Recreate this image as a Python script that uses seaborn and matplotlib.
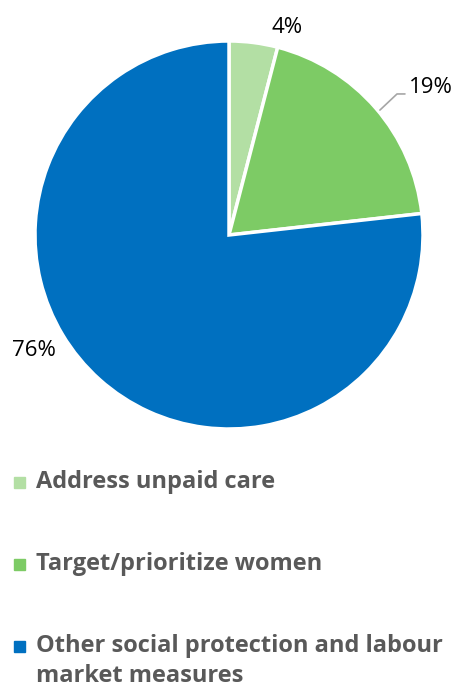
import matplotlib
matplotlib.use("Agg")
import matplotlib.pyplot as plt
from matplotlib.patches import Rectangle
import seaborn as sns

categories = ["Address unpaid care", "Target/prioritize women",
              "Other social protection and labour\nmarket measures"]
values = [4, 19, 76]
colors = ["#B3DFA4", "#7DCB65", "#0070C0"]

sns.set_theme(style="white")
plt.rcParams["font.family"] = ["Open Sans", "DejaVu Sans"]

W, H = 457, 688
fig = plt.figure(figsize=(W / 100, H / 100), dpi=100)

# pie area: centre (229, 235) px, radius 194 px
cx, cy, r = 229, 235, 194
ax = fig.add_axes([(cx - r) / W, (H - cy - r) / H, 2 * r / W, 2 * r / H])
wedges, _ = ax.pie(values, colors=colors, startangle=90, counterclock=False,
                   radius=1.0, wedgeprops=dict(edgecolor="white", linewidth=2.5))
ax.set_xlim(-1, 1)
ax.set_ylim(-1, 1)
ax.set_aspect("equal")
ax.axis("off")

lab_kw = dict(fontsize=16, color="black", clip_on=False)
ax.text(0.30, 1.07, f"{values[0]}%", ha="center", va="center", **lab_kw)
ax.text(0.93, 0.76, f"{values[1]}%", ha="left", va="center", **lab_kw)
ax.plot([0.778, 0.866, 0.907], [0.644, 0.727, 0.727], color="#A6A6A6",
        lw=1.2, clip_on=False)
ax.text(-1.005, -0.593, f"{values[2]}%", ha="center", va="center", **lab_kw)

# legend
leg_y = [482, 564, 661]
for lab, col, y in zip(categories, colors, leg_y):
    sq_y = y - 15.5 if "\n" in lab else y
    fig.patches.append(Rectangle((14 / W, (H - sq_y - 6) / H), 11 / W, 11 / H,
                                 transform=fig.transFigure, color=col))
    fig.text(36 / W, (H - y) / H, lab, ha="left", va="center",
             fontsize=17, fontweight="bold", color="#595959", linespacing=1.35)

fig.savefig("out.png", dpi=100)
